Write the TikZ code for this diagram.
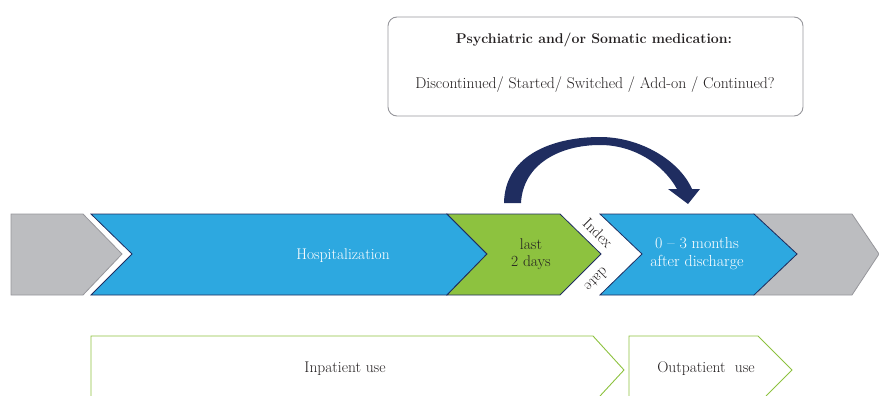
\documentclass[tikz,border=0pt]{standalone}
\usepackage{fontspec}
\usepackage{tikz}
\definecolor{barblue}{RGB}{45,168,224}
\definecolor{navy}{RGB}{31,45,96}
\definecolor{bargreen}{RGB}{141,194,63}
\definecolor{bargray}{RGB}{188,189,192}
\definecolor{edgegray}{RGB}{150,150,155}
\definecolor{txt}{RGB}{35,31,32}
\tikzset{
  grayarrow/.style={fill=bargray,draw=edgegray,line width=0.8pt},
  bluearrow/.style={fill=barblue,draw=navy,line width=0.8pt},
  greenarrow/.style={fill=bargreen,draw=navy,line width=0.8pt},
  useline/.style={draw=bargreen,line width=0.9pt},
  lbl/.style={font=\fontsize{15.5}{17.5}\selectfont,align=center,text=txt}
}

\begin{document}
\begin{tikzpicture}[x=1pt,y=-1pt]
\useasboundingbox (0,0) rectangle (879,396);

% question box
\draw[edgegray,line width=0.9pt,rounded corners=9pt] (388,17) rectangle (803,116);
\node[lbl,font=\fontsize{14.1}{16}\selectfont\bfseries] (medtitle) at (594,40) {Psychiatric and/or Somatic medication:};
\node[lbl,font=\fontsize{15.7}{17.5}\selectfont] (medopts) at (595,85) {Discontinued/ Started/ Switched / Add-on / Continued?};

% time line
\draw[grayarrow] (11,214) -- (83,214) -- (122,254) -- (83,295) -- (11,295) -- cycle;
\draw[grayarrow] (754,214) -- (852,214) -- (879,254) -- (852,295) -- (754,295) -- (797,254) -- cycle;
\draw[bluearrow] (91,214) -- (447,214) -- (487,254) -- (447,295) -- (91,295) -- (132,254) -- cycle;
\draw[greenarrow] (447,214) -- (560,214) -- (601,254) -- (560,295) -- (447,295) -- (487,254) -- cycle;
\draw[bluearrow] (600,214) -- (754,214) -- (797,254) -- (754,295) -- (600,295) -- (642,254) -- cycle;

\node[lbl,text=white] (hosp) at (343,256) {Hospitalization};
\node[lbl] (last) at (531,254) {last\\2 days};
\node[lbl,text=white,font=\fontsize{16}{18}\selectfont] (after) at (697,254) {0 -- 3 months\\after discharge};
\node[lbl,rotate=-45,inner sep=0pt] (index) at (598,233) {Index};
\node[lbl,rotate=225,inner sep=0pt] (date) at (597,280) {date};

% curved arrow
\fill[navy] (504,203) .. controls (505,152) and (558,137) .. (600,137)
  .. controls (640,137) and (679,160) .. (692,189) -- (700,189) -- (688,204) -- (668,189)
  -- (677,189) .. controls (663,164) and (634,145) .. (600,145)
  .. controls (560,145) and (523,164) .. (521,203) -- cycle;

% in/outpatient
\draw[useline] (91,396) -- (91,336) -- (593,336) -- (624,370) -- (600,396);
\draw[useline] (629,396) -- (629,336) -- (758,336) -- (792,370) -- (766,396);
\node[lbl] (inuse) at (345,369) {Inpatient use};
\node[lbl] (outuse) at (706,369) {Outpatient\ \ use};
\end{tikzpicture}
\end{document}
